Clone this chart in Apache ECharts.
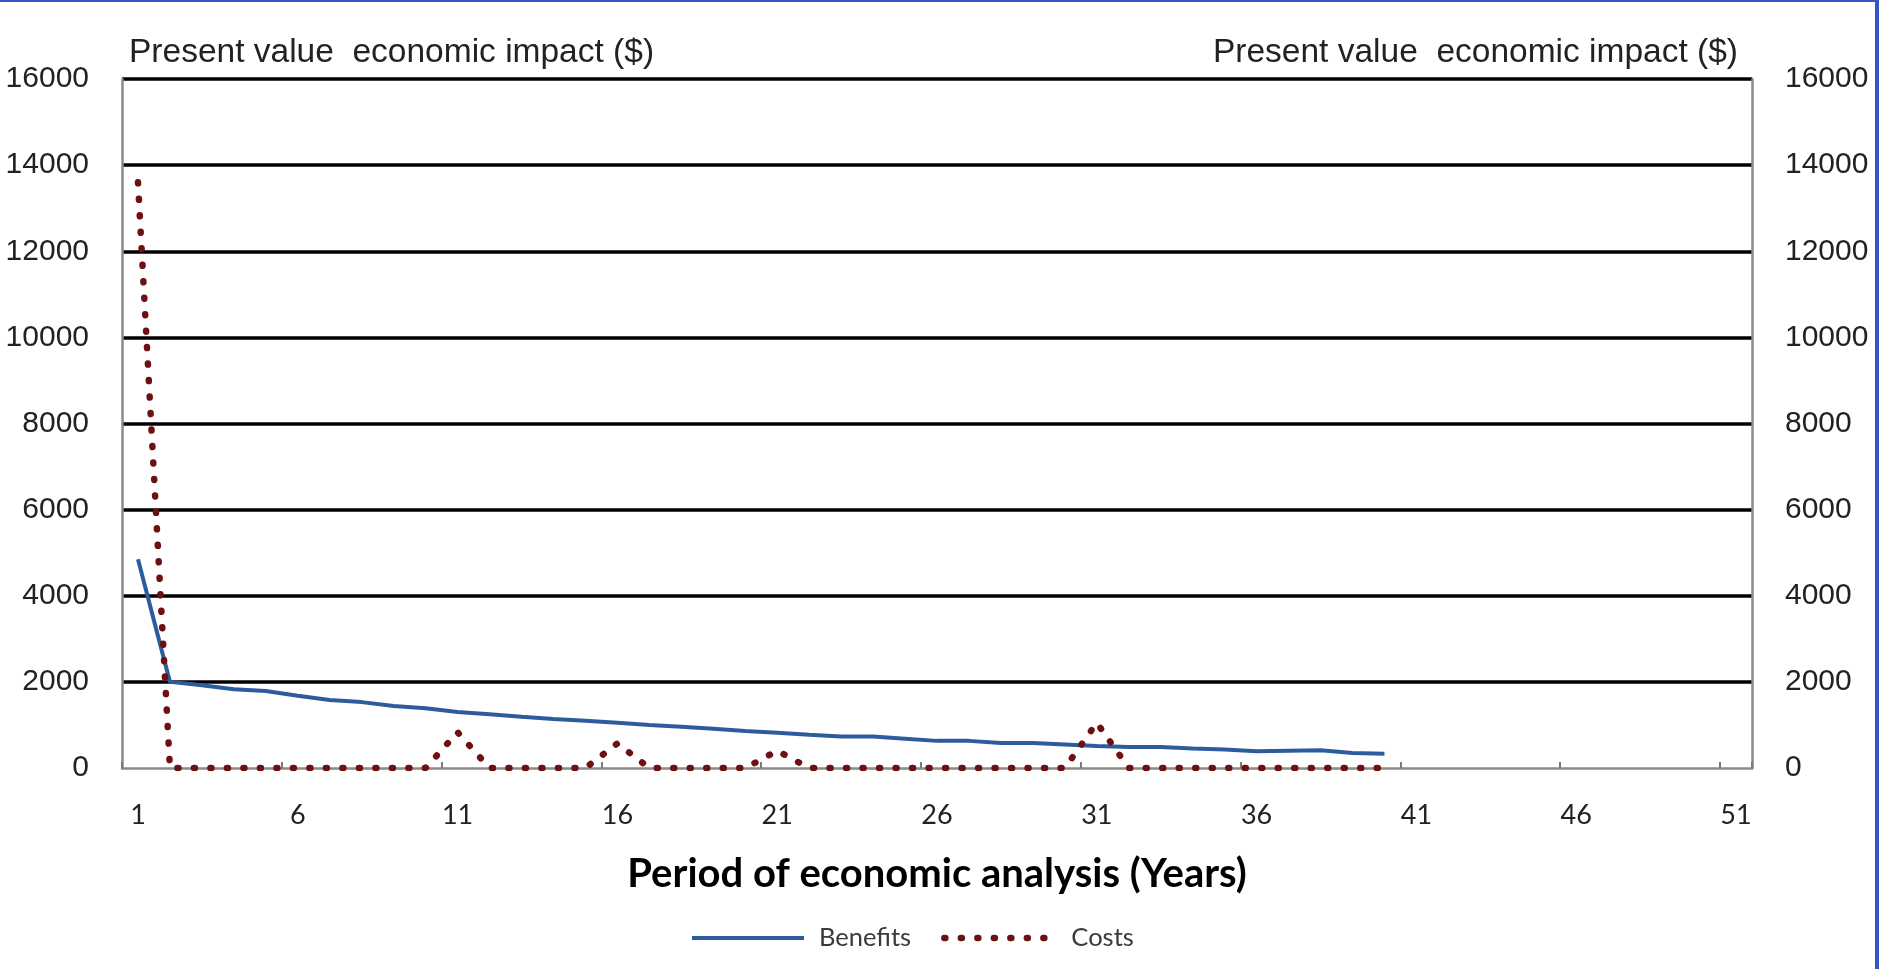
<!DOCTYPE html>
<html>
<head>
<meta charset="utf-8">
<title>Present value economic impact</title>
<script src="https://cdn.jsdelivr.net/npm/echarts@6/dist/echarts.min.js"></script>
<style>
  html, body { margin: 0; padding: 0; background: #ffffff; }
  #chart { width: 1879px; height: 969px; }
</style>
</head>
<body>
<div id="chart"></div>
<script>
// Period of economic analysis, years 1..51 on the category axis
const years = Array.from({ length: 51 }, (_, i) => String(i + 1));

// Present value of benefits per year ($), years 1..40
const benefits = [
  4850, 2000, 1920, 1830, 1790, 1680, 1580, 1530, 1440, 1390,
  1300, 1250, 1190, 1140, 1100, 1050, 1000, 960, 910, 860,
  820, 770, 730, 730, 680, 630, 630, 580, 580, 545,
  510, 490, 490, 450, 430, 390, 400, 410, 350, 330
];

// Present value of costs per year ($), years 1..40
const costs = [
  13600, 0, 0, 0, 0, 0, 0, 0, 0, 0,
  830, 0, 0, 0, 0, 570, 0, 0, 0, 0,
  400, 0, 0, 0, 0, 0, 0, 0, 0, 0,
  1050, 0, 0, 0, 0, 0, 0, 0, 0, 0
];

const yTitle = 'Present value  economic impact ($)';
const xTitle = 'Period of economic analysis (Years)';

const chart = echarts.init(document.getElementById('chart'), null, { renderer: 'canvas' });

const valueAxis = (position, extra) => Object.assign({
  type: 'value',
  position: position,
  min: 0,
  max: 16000,
  interval: 2000,
  name: yTitle,
  nameLocation: 'end',
  nameGap: 9,
  axisLine: { show: true, lineStyle: { color: '#8a8a8a', width: 2.5 } },
  axisTick: { show: false },
  axisLabel: {
    margin: 33,
    color: '#222222',
    fontFamily: '"Liberation Sans", Arial, sans-serif',
    fontSize: 30,
    formatter: (v) => String(v)
  }
}, extra);

const titleStyle = {
  color: '#222222',
  fontFamily: '"Liberation Sans", Arial, sans-serif',
  fontSize: 33.5
};

chart.setOption({
  animation: false,
  backgroundColor: '#ffffff',
  grid: { left: 122, right: 127, top: 79, bottom: 201, containLabel: false },
  legend: {
    left: 685,
    top: 920,
    itemWidth: 112,
    itemHeight: 14,
    itemGap: 30,
    itemStyle: { opacity: 0 },
    lineStyle: { width: 'inherit' },
    textStyle: {
      color: '#3a3a3a',
      fontFamily: 'Lato, sans-serif',
      fontSize: 25.5,
      padding: [0, 0, 0, 10]
    },
    data: ['Benefits', 'Costs']
  },
  xAxis: {
    type: 'category',
    data: years,
    boundaryGap: true,
    name: xTitle,
    nameLocation: 'middle',
    nameGap: 86,
    nameTextStyle: {
      color: '#000000',
      fontFamily: 'Lato, sans-serif',
      fontWeight: 'bold',
      fontSize: 40
    },
    axisLine: { show: true, lineStyle: { color: '#8a8a8a', width: 2.5 } },
    axisTick: {
      show: true,
      inside: true,
      length: 6,
      interval: 4,
      alignWithLabel: false,
      lineStyle: { color: '#7a7a7a', width: 2 }
    },
    axisLabel: {
      interval: 4,
      margin: 34,
      color: '#222222',
      fontFamily: 'Lato, sans-serif',
      fontSize: 27
    },
    splitLine: { show: false }
  },
  yAxis: [
    valueAxis('left', {
      nameTextStyle: Object.assign({ align: 'left', padding: [0, 0, 0, 7] }, titleStyle),
      splitLine: {
        show: true,
        showMinLine: false,
        lineStyle: { color: '#000000', width: 3.5 }
      }
    }),
    valueAxis('right', {
      nameTextStyle: Object.assign({ align: 'right', padding: [0, 14, 0, 0] }, titleStyle),
      splitLine: { show: false }
    })
  ],
  graphic: [
    { type: 'rect', left: 0, top: 0, shape: { width: 1879, height: 2 }, style: { fill: '#3555c4' }, silent: true },
    { type: 'rect', right: 0, top: 0, shape: { width: 4, height: 969 }, style: { fill: '#3555c4' }, silent: true }
  ],
  series: [
    {
      name: 'Benefits',
      type: 'line',
      yAxisIndex: 0,
      data: benefits,
      symbol: 'none',
      showSymbol: false,
      lineStyle: { color: '#2d5c9c', width: 4 },
      itemStyle: { color: '#2d5c9c' },
      z: 3
    },
    {
      name: 'Costs',
      type: 'line',
      yAxisIndex: 0,
      data: costs,
      symbol: 'none',
      showSymbol: false,
      lineStyle: { color: '#6e0f12', width: 6.5, type: [1, 15.5], cap: 'round' },
      itemStyle: { color: '#6e0f12' },
      z: 4
    }
  ]
});
</script>
</body>
</html>
